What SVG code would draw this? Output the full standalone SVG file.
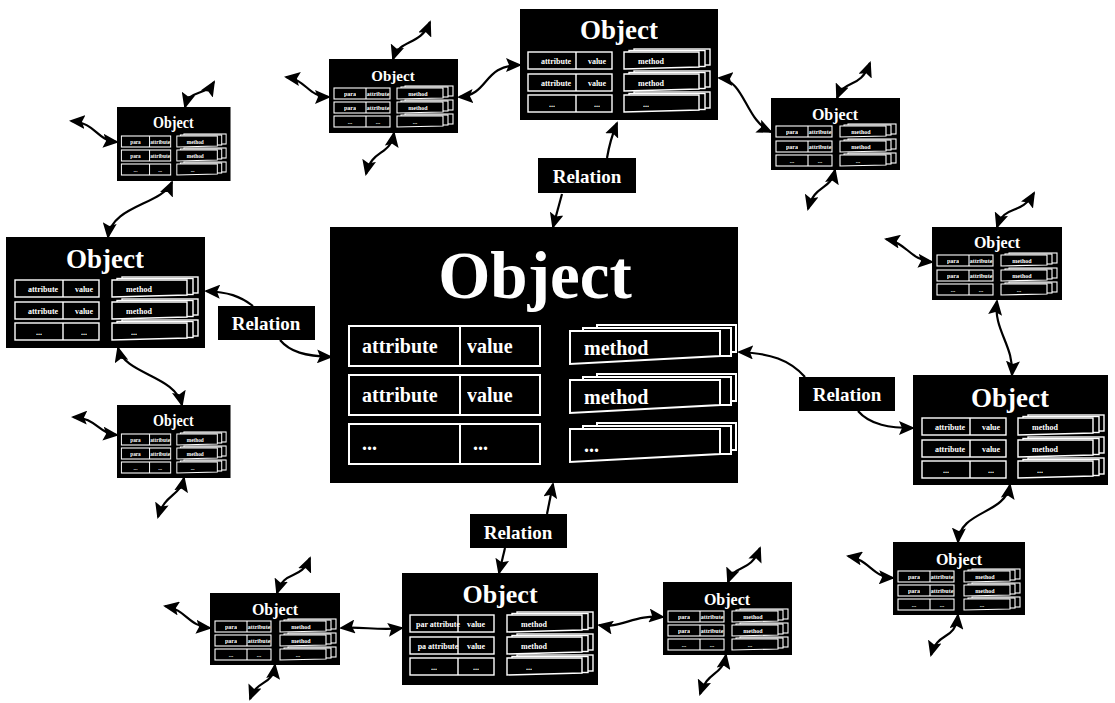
<svg xmlns="http://www.w3.org/2000/svg" xmlns:xlink="http://www.w3.org/1999/xlink" width="1115" height="703" viewBox="0 0 1115 703">
<style>
.bg{fill:#fff}
.box{fill:#000}
.cellC{fill:#000;stroke:#fff;stroke-width:2}
.cellM{fill:#000;stroke:#fff;stroke-width:1.4}
.cellS{fill:#000;stroke:#fff;stroke-width:1.1}
.t{font-family:"Liberation Serif","Times New Roman",serif;font-weight:bold;fill:#fff;opacity:0.999}
.mid{text-anchor:middle}
.conn path{fill:none;stroke:#000;stroke-width:2.2;marker-end:url(#ah)}
.conn path.dbl{marker-start:url(#ah)}
</style>
<defs>
<marker id="ah" viewBox="0 0 16 14" refX="14" refY="7" markerWidth="16" markerHeight="14" markerUnits="userSpaceOnUse" orient="auto-start-reverse">
<path d="M0,0 L16,7 L0,14 L3,7 Z" fill="#000"/>
</marker>
<g id="rowC" class="cellC"><rect x="0" y="0" width="191" height="40"/><line x1="111" y1="0" x2="111" y2="40"/></g>
<g id="methC" class="cellC"><rect x="27" y="-6" width="139" height="27"/><rect x="13" y="-3" width="148" height="28"/><path d="M0,0 H150 V25 L0,33 Z"/></g>
<g id="rowM" class="cellM"><rect x="0" y="0" width="84" height="17"/><line x1="48" y1="0" x2="48" y2="17"/></g>
<g id="methM" class="cellM"><rect x="10" y="-3" width="76" height="16"/><rect x="5" y="-1.5" width="76" height="16"/><path d="M0,0 H75 V15 L0,17 Z"/></g>
<g id="rowS" class="cellS"><rect x="0" y="0" width="56" height="11"/><line x1="32" y1="0" x2="32" y2="11"/></g>
<g id="methS" class="cellS"><rect x="8" y="-2" width="48" height="10"/><rect x="4" y="-1" width="47" height="10"/><path d="M0,0 H46 V10 L0,11 Z"/></g>
</defs>
<rect class="bg" x="0" y="0" width="1115" height="703"/>

<g id="central">
<rect class="box" x="330" y="227" width="408" height="256"/>
<text class="t mid" x="535" y="298" font-size="67">Object</text>
<use xlink:href="#rowC" x="349" y="326"/>
<use xlink:href="#rowC" x="349" y="375"/>
<use xlink:href="#rowC" x="349" y="424"/>
<use xlink:href="#methC" x="570" y="331"/>
<use xlink:href="#methC" x="570" y="380"/>
<use xlink:href="#methC" x="570" y="429"/>
<text class="t" font-size="20" x="362" y="353">attribute</text>
<text class="t" font-size="20" x="467" y="353">value</text>
<text class="t" font-size="20" x="362" y="402">attribute</text>
<text class="t" font-size="20" x="467" y="402">value</text>
<text class="t" font-size="20" x="362" y="450">...</text>
<text class="t" font-size="20" x="473" y="450">...</text>
<text class="t" font-size="20" x="584" y="355">method</text>
<text class="t" font-size="20" x="584" y="404">method</text>
<text class="t" font-size="20" x="584" y="452">...</text>
</g>

<g id="rel-top"><rect class="box" x="538" y="158" width="98" height="35"/><text class="t mid" x="587" y="183" font-size="19">Relation</text></g>
<g id="rel-left"><rect class="box" x="218" y="306" width="97" height="34"/><text class="t mid" x="266" y="330" font-size="19">Relation</text></g>
<g id="rel-right"><rect class="box" x="799" y="377" width="96" height="34"/><text class="t mid" x="847" y="401" font-size="19">Relation</text></g>
<g id="rel-bottom"><rect class="box" x="470" y="514" width="97" height="34"/><text class="t mid" x="518" y="539" font-size="19">Relation</text></g>

<g id="obj-left" transform="translate(6,237)">
<rect class="box" x="0" y="0" width="199" height="111"/>
<text class="t mid" x="99" y="31" font-size="27">Object</text>
<use xlink:href="#rowM" x="9" y="43"/><use xlink:href="#rowM" x="9" y="65"/><use xlink:href="#rowM" x="9" y="86"/>
<use xlink:href="#methM" x="106" y="43"/><use xlink:href="#methM" x="106" y="65"/><use xlink:href="#methM" x="106" y="86"/>
<text class="t mid" font-size="8" x="37" y="55">attribute</text><text class="t mid" font-size="8" x="78" y="55">value</text>
<text class="t mid" font-size="8" x="37" y="77">attribute</text><text class="t mid" font-size="8" x="78" y="77">value</text>
<text class="t mid" font-size="8" x="33" y="98">...</text><text class="t mid" font-size="8" x="78" y="98">...</text>
<text class="t mid" font-size="8" x="133" y="55">method</text><text class="t mid" font-size="8" x="133" y="77">method</text><text class="t mid" font-size="8" x="128" y="98">...</text>
</g>

<g id="obj-top" transform="translate(520,9)">
<rect class="box" x="0" y="0" width="198" height="111"/>
<text class="t mid" x="99" y="30" font-size="27">Object</text>
<use xlink:href="#rowM" x="8" y="43"/><use xlink:href="#rowM" x="8" y="65"/><use xlink:href="#rowM" x="8" y="86"/>
<use xlink:href="#methM" x="104" y="43"/><use xlink:href="#methM" x="104" y="65"/><use xlink:href="#methM" x="104" y="86"/>
<text class="t mid" font-size="8" x="36" y="55">attribute</text><text class="t mid" font-size="8" x="77" y="55">value</text>
<text class="t mid" font-size="8" x="36" y="77">attribute</text><text class="t mid" font-size="8" x="77" y="77">value</text>
<text class="t mid" font-size="8" x="32" y="98">...</text><text class="t mid" font-size="8" x="77" y="98">...</text>
<text class="t mid" font-size="8" x="131" y="55">method</text><text class="t mid" font-size="8" x="131" y="77">method</text><text class="t mid" font-size="8" x="126" y="98">...</text>
</g>

<g id="obj-right" transform="translate(913,375)">
<rect class="box" x="0" y="0" width="195" height="110"/>
<text class="t mid" x="97" y="32" font-size="27">Object</text>
<use xlink:href="#rowM" x="9" y="43"/><use xlink:href="#rowM" x="9" y="65"/><use xlink:href="#rowM" x="9" y="86"/>
<use xlink:href="#methM" x="105" y="43"/><use xlink:href="#methM" x="105" y="65"/><use xlink:href="#methM" x="105" y="86"/>
<text class="t mid" font-size="8" x="37" y="55">attribute</text><text class="t mid" font-size="8" x="78" y="55">value</text>
<text class="t mid" font-size="8" x="37" y="77">attribute</text><text class="t mid" font-size="8" x="78" y="77">value</text>
<text class="t mid" font-size="8" x="33" y="98">...</text><text class="t mid" font-size="8" x="78" y="98">...</text>
<text class="t mid" font-size="8" x="132" y="55">method</text><text class="t mid" font-size="8" x="132" y="77">method</text><text class="t mid" font-size="8" x="127" y="98">...</text>
</g>

<g id="obj-bottom" transform="translate(402,573)">
<rect class="box" x="0" y="0" width="196" height="112"/>
<text class="t mid" x="98" y="30" font-size="26">Object</text>
<use xlink:href="#rowM" x="8" y="42"/><use xlink:href="#rowM" x="8" y="64"/><use xlink:href="#rowM" x="8" y="85"/>
<use xlink:href="#methM" x="105" y="42"/><use xlink:href="#methM" x="105" y="64"/><use xlink:href="#methM" x="105" y="85"/>
<text class="t mid" font-size="8" x="36" y="54">par attribute</text><text class="t mid" font-size="8" x="74" y="54">value</text>
<text class="t mid" font-size="8" x="36" y="76">pa attribute</text><text class="t mid" font-size="8" x="74" y="76">value</text>
<text class="t mid" font-size="8" x="32" y="97">...</text><text class="t mid" font-size="8" x="74" y="97">...</text>
<text class="t mid" font-size="8" x="132" y="54">method</text><text class="t mid" font-size="8" x="132" y="76">method</text><text class="t mid" font-size="8" x="127" y="97">...</text>
</g>

<g id="obj-s1" transform="translate(329,59)">
<rect class="box" x="0" y="0" width="129" height="74"/>
<text class="t mid" x="64" y="22" font-size="15">Object</text>
<use xlink:href="#rowS" x="5" y="29"/><use xlink:href="#rowS" x="5" y="43"/><use xlink:href="#rowS" x="5" y="57"/>
<use xlink:href="#methS" x="68" y="29"/><use xlink:href="#methS" x="68" y="43"/><use xlink:href="#methS" x="68" y="57"/>
<text class="t mid" font-size="6" x="21" y="37">para</text><text class="t mid" font-size="6" x="49" y="37">attribute</text>
<text class="t mid" font-size="6" x="21" y="51">para</text><text class="t mid" font-size="6" x="49" y="51">attribute</text>
<text class="t mid" font-size="6" x="21" y="65">...</text><text class="t mid" font-size="6" x="49" y="65">...</text>
<text class="t mid" font-size="6" x="89" y="37">method</text><text class="t mid" font-size="6" x="89" y="51">method</text><text class="t mid" font-size="6" x="86" y="65">...</text>
</g>

<g id="obj-s2" transform="translate(117,107) scale(0.88,1)">
<rect class="box" x="0" y="0" width="129" height="74"/>
<text class="t mid" x="64" y="21" font-size="16">Object</text>
<use xlink:href="#rowS" x="5" y="29"/><use xlink:href="#rowS" x="5" y="43"/><use xlink:href="#rowS" x="5" y="57"/>
<use xlink:href="#methS" x="68" y="29"/><use xlink:href="#methS" x="68" y="43"/><use xlink:href="#methS" x="68" y="57"/>
<text class="t mid" font-size="6" x="21" y="37">para</text><text class="t mid" font-size="6" x="49" y="37">attribute</text>
<text class="t mid" font-size="6" x="21" y="51">para</text><text class="t mid" font-size="6" x="49" y="51">attribute</text>
<text class="t mid" font-size="6" x="21" y="65">...</text><text class="t mid" font-size="6" x="49" y="65">...</text>
<text class="t mid" font-size="6" x="89" y="37">method</text><text class="t mid" font-size="6" x="89" y="51">method</text><text class="t mid" font-size="6" x="86" y="65">...</text>
</g>

<g id="obj-s3" transform="translate(117,405) scale(0.88,1)">
<rect class="box" x="0" y="0" width="129" height="73"/>
<text class="t mid" x="64" y="21" font-size="16">Object</text>
<use xlink:href="#rowS" x="5" y="29"/><use xlink:href="#rowS" x="5" y="43"/><use xlink:href="#rowS" x="5" y="57"/>
<use xlink:href="#methS" x="68" y="29"/><use xlink:href="#methS" x="68" y="43"/><use xlink:href="#methS" x="68" y="57"/>
<text class="t mid" font-size="6" x="21" y="37">para</text><text class="t mid" font-size="6" x="49" y="37">attribute</text>
<text class="t mid" font-size="6" x="21" y="51">para</text><text class="t mid" font-size="6" x="49" y="51">attribute</text>
<text class="t mid" font-size="6" x="21" y="65">...</text><text class="t mid" font-size="6" x="49" y="65">...</text>
<text class="t mid" font-size="6" x="89" y="37">method</text><text class="t mid" font-size="6" x="89" y="51">method</text><text class="t mid" font-size="6" x="86" y="65">...</text>
</g>

<g id="obj-s4" transform="translate(771,98)">
<rect class="box" x="0" y="0" width="129" height="72"/>
<text class="t mid" x="64" y="22" font-size="16">Object</text>
<use xlink:href="#rowS" x="5" y="28"/><use xlink:href="#rowS" x="5" y="43"/><use xlink:href="#rowS" x="5" y="57"/>
<use xlink:href="#methS" x="69" y="28"/><use xlink:href="#methS" x="69" y="43"/><use xlink:href="#methS" x="69" y="57"/>
<text class="t mid" font-size="6" x="21" y="36">para</text><text class="t mid" font-size="6" x="49" y="36">attribute</text>
<text class="t mid" font-size="6" x="21" y="51">para</text><text class="t mid" font-size="6" x="49" y="51">attribute</text>
<text class="t mid" font-size="6" x="21" y="65">...</text><text class="t mid" font-size="6" x="49" y="65">...</text>
<text class="t mid" font-size="6" x="90" y="36">method</text><text class="t mid" font-size="6" x="90" y="51">method</text><text class="t mid" font-size="6" x="87" y="65">...</text>
</g>

<g id="obj-s5" transform="translate(932,227)">
<rect class="box" x="0" y="0" width="130" height="73"/>
<text class="t mid" x="65" y="21" font-size="16">Object</text>
<use xlink:href="#rowS" x="5" y="28"/><use xlink:href="#rowS" x="5" y="43"/><use xlink:href="#rowS" x="5" y="57"/>
<use xlink:href="#methS" x="69" y="28"/><use xlink:href="#methS" x="69" y="43"/><use xlink:href="#methS" x="69" y="57"/>
<text class="t mid" font-size="6" x="21" y="36">para</text><text class="t mid" font-size="6" x="49" y="36">attribute</text>
<text class="t mid" font-size="6" x="21" y="51">para</text><text class="t mid" font-size="6" x="49" y="51">attribute</text>
<text class="t mid" font-size="6" x="21" y="65">...</text><text class="t mid" font-size="6" x="49" y="65">...</text>
<text class="t mid" font-size="6" x="90" y="36">method</text><text class="t mid" font-size="6" x="90" y="51">method</text><text class="t mid" font-size="6" x="87" y="65">...</text>
</g>

<g id="obj-s6" transform="translate(893,542)">
<rect class="box" x="0" y="0" width="132" height="73"/>
<text class="t mid" x="66" y="23" font-size="16">Object</text>
<use xlink:href="#rowS" x="5" y="29"/><use xlink:href="#rowS" x="5" y="43"/><use xlink:href="#rowS" x="5" y="57"/>
<use xlink:href="#methS" x="71" y="29"/><use xlink:href="#methS" x="71" y="43"/><use xlink:href="#methS" x="71" y="57"/>
<text class="t mid" font-size="6" x="21" y="37">para</text><text class="t mid" font-size="6" x="49" y="37">attribute</text>
<text class="t mid" font-size="6" x="21" y="51">para</text><text class="t mid" font-size="6" x="49" y="51">attribute</text>
<text class="t mid" font-size="6" x="21" y="65">...</text><text class="t mid" font-size="6" x="49" y="65">...</text>
<text class="t mid" font-size="6" x="92" y="37">method</text><text class="t mid" font-size="6" x="92" y="51">method</text><text class="t mid" font-size="6" x="89" y="65">...</text>
</g>

<g id="obj-s7" transform="translate(210,593)">
<rect class="box" x="0" y="0" width="130" height="72"/>
<text class="t mid" x="65" y="22" font-size="16">Object</text>
<use xlink:href="#rowS" x="5" y="28"/><use xlink:href="#rowS" x="5" y="42"/><use xlink:href="#rowS" x="5" y="56"/>
<use xlink:href="#methS" x="70" y="28"/><use xlink:href="#methS" x="70" y="42"/><use xlink:href="#methS" x="70" y="56"/>
<text class="t mid" font-size="6" x="21" y="36">para</text><text class="t mid" font-size="6" x="49" y="36">attribute</text>
<text class="t mid" font-size="6" x="21" y="50">para</text><text class="t mid" font-size="6" x="49" y="50">attribute</text>
<text class="t mid" font-size="6" x="21" y="64">...</text><text class="t mid" font-size="6" x="49" y="64">...</text>
<text class="t mid" font-size="6" x="91" y="36">method</text><text class="t mid" font-size="6" x="91" y="50">method</text><text class="t mid" font-size="6" x="88" y="64">...</text>
</g>

<g id="obj-s8" transform="translate(663,582)">
<rect class="box" x="0" y="0" width="129" height="73"/>
<text class="t mid" x="64" y="23" font-size="16">Object</text>
<use xlink:href="#rowS" x="5" y="29"/><use xlink:href="#rowS" x="5" y="43"/><use xlink:href="#rowS" x="5" y="57"/>
<use xlink:href="#methS" x="69" y="29"/><use xlink:href="#methS" x="69" y="43"/><use xlink:href="#methS" x="69" y="57"/>
<text class="t mid" font-size="6" x="21" y="37">para</text><text class="t mid" font-size="6" x="49" y="37">attribute</text>
<text class="t mid" font-size="6" x="21" y="51">para</text><text class="t mid" font-size="6" x="49" y="51">attribute</text>
<text class="t mid" font-size="6" x="21" y="65">...</text><text class="t mid" font-size="6" x="49" y="65">...</text>
<text class="t mid" font-size="6" x="90" y="37">method</text><text class="t mid" font-size="6" x="90" y="51">method</text><text class="t mid" font-size="6" x="87" y="65">...</text>
</g>

<g id="connectors" class="conn">
<path d="M607,158 Q610,140 617,123"/>
<path d="M562,194 L553,227"/>
<path d="M253,306 C240,296 228,292 206,291"/>
<path d="M280,340 C290,352 305,356 331,357"/>
<path d="M805,377 C790,360 770,353 739,352"/>
<path d="M858,411 C870,425 890,428 913,428"/>
<path d="M547,514 L553,484"/>
<path d="M505,548 L499,573"/>
<path class="dbl" d="M172,182 C162,205 112,205 108,237"/>
<path class="dbl" d="M118,348 C125,375 175,375 182,405"/>
<path class="dbl" d="M459,97 C490,95 482,65 520,65"/>
<path class="dbl" d="M719,78 C745,80 745,120 771,132"/>
<path class="dbl" d="M997,301 C993,330 1014,345 1012,375"/>
<path class="dbl" d="M1010,485 C1005,515 960,510 958,542"/>
<path class="dbl" d="M341,628 C360,626 380,631 402,628"/>
<path class="dbl" d="M599,625 C620,629 635,614 663,617"/>
<path class="dbl" d="M393,59 C400,38 420,47 430,22"/>
<path class="dbl" d="M329,97 C308,97 307,80 286,77"/>
<path class="dbl" d="M394,133 C390,157 372,148 366,174"/>
<path class="dbl" d="M117,142 C95,140 97,123 71,121"/>
<path class="dbl" d="M185,107 C190,88 205,97 214,82"/>
<path class="dbl" d="M117,435 C97,433 97,418 73,417"/>
<path class="dbl" d="M184,478 C180,497 165,493 158,517"/>
<path class="dbl" d="M837,98 C845,78 860,90 870,63"/>
<path class="dbl" d="M835,170 C830,192 815,183 808,209"/>
<path class="dbl" d="M932,262 C910,260 907,243 886,239"/>
<path class="dbl" d="M997,227 C1005,203 1020,217 1034,193"/>
<path class="dbl" d="M893,578 C872,577 870,560 848,556"/>
<path class="dbl" d="M958,615 C955,642 938,630 931,655"/>
<path class="dbl" d="M277,593 C285,568 300,582 310,558"/>
<path class="dbl" d="M210,628 C188,626 187,610 165,606"/>
<path class="dbl" d="M275,665 C272,687 258,678 250,699"/>
<path class="dbl" d="M728,582 C735,563 750,574 760,548"/>
<path class="dbl" d="M726,655 C722,677 708,670 700,694"/>
</g>
</svg>
